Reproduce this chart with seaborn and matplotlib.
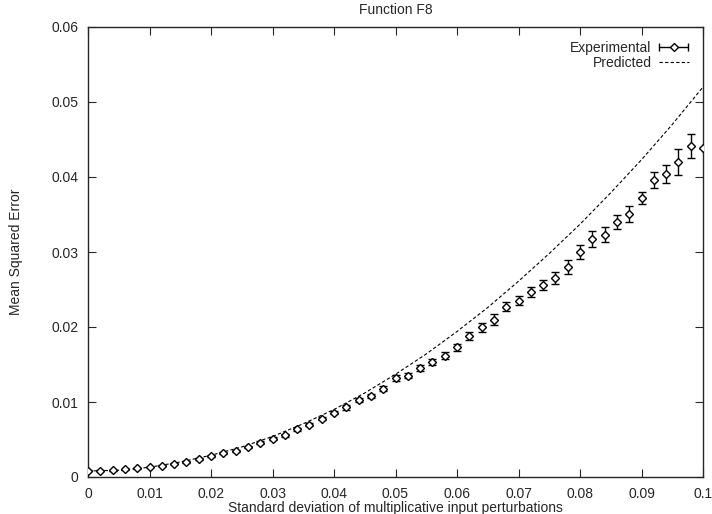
import matplotlib
matplotlib.use("Agg")
import matplotlib.pyplot as plt
from matplotlib.legend_handler import HandlerErrorbar
import pandas as pd
import seaborn as sns

# experimental points (x, mean, error)
exp_x = [0.000, 0.002, 0.004, 0.006, 0.008, 0.010, 0.012, 0.014, 0.016, 0.018,
         0.020, 0.022, 0.024, 0.026, 0.028, 0.030, 0.032, 0.034, 0.036, 0.038,
         0.040, 0.042, 0.044, 0.046, 0.048, 0.050, 0.052, 0.054, 0.056, 0.058,
         0.060, 0.062, 0.064, 0.066, 0.068, 0.070, 0.072, 0.074, 0.076, 0.078,
         0.080, 0.082, 0.084, 0.086, 0.088, 0.090, 0.092, 0.094, 0.096, 0.098,
         0.100]
exp_y = [0.00084, 0.00084, 0.00090, 0.00102, 0.00115, 0.00133, 0.00150, 0.00180, 0.00200, 0.00240,
         0.00280, 0.00320, 0.00350, 0.00400, 0.00460, 0.00510, 0.00560, 0.00640, 0.00700, 0.00780,
         0.00860, 0.00930, 0.01030, 0.01080, 0.01180, 0.01320, 0.01350, 0.01450, 0.01530, 0.01620,
         0.01730, 0.01880, 0.02000, 0.02100, 0.02270, 0.02350, 0.02470, 0.02560, 0.02650, 0.02800,
         0.03000, 0.03170, 0.03230, 0.03400, 0.03510, 0.03720, 0.03960, 0.04040, 0.04200, 0.04410,
         0.04390]
exp_err = [0.00005, 0.00005, 0.00005, 0.00005, 0.00005, 0.00006, 0.00006, 0.00008, 0.00008, 0.0001,
           0.0001, 0.00012, 0.00012, 0.00015, 0.00015, 0.00018, 0.0002, 0.0002, 0.00022, 0.00025,
           0.00025, 0.0003, 0.0003, 0.00032, 0.00032, 0.00035, 0.00035, 0.0004, 0.0004, 0.00045,
           0.0005, 0.0005, 0.0006, 0.0007, 0.0006, 0.0006, 0.0007, 0.00067, 0.0008, 0.00087,
           0.00087, 0.00105, 0.001, 0.00095, 0.0011, 0.0008, 0.0011, 0.00125, 0.00176, 0.0016,
           0.0]

# predicted curve
pred_x = [0.000, 0.005, 0.010, 0.015, 0.020, 0.025, 0.030, 0.035, 0.040, 0.045, 0.050,
          0.055, 0.060, 0.065, 0.070, 0.075, 0.080, 0.085, 0.090, 0.095, 0.100]
pred_y = [0.0008, 0.0009, 0.0013, 0.0020, 0.0029, 0.0040, 0.0054, 0.0071, 0.0090, 0.0112, 0.0137,
          0.0164, 0.0194, 0.0226, 0.0261, 0.0298, 0.0337, 0.0379, 0.0423, 0.0470, 0.0520]

x_ticks = [0, 0.01, 0.02, 0.03, 0.04, 0.05, 0.06, 0.07, 0.08, 0.09, 0.1]
x_labels = ["0", "0.01", "0.02", "0.03", "0.04", "0.05", "0.06", "0.07", "0.08", "0.09", "0.1"]
y_ticks = [0, 0.01, 0.02, 0.03, 0.04, 0.05, 0.06]
y_labels = ["0", "0.01", "0.02", "0.03", "0.04", "0.05", "0.06"]

sns.set_style("ticks")
plt.rcParams["font.family"] = ["Liberation Sans", "DejaVu Sans"]
plt.rcParams["font.size"] = 10

fig = plt.figure(figsize=(7.12, 5.14), dpi=100)
ax = fig.add_axes([88 / 712, 37 / 514, 615 / 712, 450 / 514])

pred = pd.DataFrame({"x": pred_x, "y": pred_y})
exp = pd.DataFrame({"x": exp_x, "y": exp_y, "err": exp_err})

marker_kw = dict(fmt="D", ms=4, mfc="white", mec="black", mew=1.0, color="black",
                 ecolor="black", elinewidth=1.0, capsize=3, capthick=1.0)
ax.errorbar(exp["x"], exp["y"], yerr=exp["err"], zorder=3, **marker_kw)
sns.lineplot(data=pred, x="x", y="y", ax=ax, color="black", lw=0.8, legend=False)
pred_line = ax.lines[-1]
pred_line.set_dashes([3, 2])

# horizontal error-bar proxy for the legend, gnuplot style
proxy = ax.errorbar([-1], [-1], xerr=[0.001], **marker_kw)

ax.set_xlim(0, 0.1)
ax.set_ylim(0, 0.06)
ax.set_xticks(x_ticks)
ax.set_xticklabels(x_labels)
ax.set_yticks(y_ticks)
ax.set_yticklabels(y_labels)
ax.tick_params(direction="in", length=6, width=0.8, top=True, right=True, labelsize=10, pad=7)
for s in ax.spines.values():
    s.set_linewidth(1.0)
    s.set_visible(True)

ax.set_xlabel("Standard deviation of multiplicative input perturbations", fontsize=10, labelpad=0)
ax.set_ylabel("Mean Squared Error", fontsize=10)
ax.yaxis.set_label_coords(-0.105, 0.5)
ax.set_title("Function F8", fontsize=10, pad=9)

ax.legend([proxy, pred_line], ["Experimental", "Predicted"], loc="upper right", frameon=False,
          markerfirst=False, fontsize=10, handlelength=2.2, borderaxespad=0.6,
          labelspacing=0.1, handletextpad=0.5,
          handler_map={type(proxy): HandlerErrorbar(xerr_size=1.05)})

fig.savefig("out.png", dpi=100)
